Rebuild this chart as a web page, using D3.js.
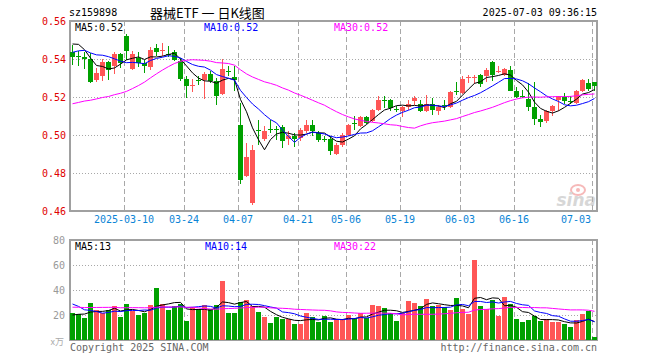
<!DOCTYPE html>
<html><head><meta charset="utf-8">
<script src="https://cdn.jsdelivr.net/npm/d3@7"></script>
<style>body{margin:0;background:#fff}svg{display:block}</style>
</head><body><svg id="c" width="660" height="360"></svg>
<script>
// ---------- data ----------
const dates = ["2025-02-25","2025-02-26","2025-02-27","2025-02-28","2025-03-03","2025-03-04","2025-03-05","2025-03-06","2025-03-07","2025-03-10","2025-03-11","2025-03-12","2025-03-13","2025-03-14","2025-03-17","2025-03-18","2025-03-19","2025-03-20","2025-03-21","2025-03-24","2025-03-25","2025-03-26","2025-03-27","2025-03-28","2025-03-31","2025-04-01","2025-04-02","2025-04-03","2025-04-07","2025-04-08","2025-04-09","2025-04-10","2025-04-11","2025-04-14","2025-04-15","2025-04-16","2025-04-17","2025-04-18","2025-04-21","2025-04-22","2025-04-23","2025-04-24","2025-04-25","2025-04-28","2025-04-29","2025-04-30","2025-05-06","2025-05-07","2025-05-08","2025-05-09","2025-05-12","2025-05-13","2025-05-14","2025-05-15","2025-05-16","2025-05-19","2025-05-20","2025-05-21","2025-05-22","2025-05-23","2025-05-26","2025-05-27","2025-05-28","2025-05-29","2025-05-30","2025-06-03","2025-06-04","2025-06-05","2025-06-06","2025-06-09","2025-06-10","2025-06-11","2025-06-12","2025-06-13","2025-06-16","2025-06-17","2025-06-18","2025-06-19","2025-06-20","2025-06-23","2025-06-24","2025-06-25","2025-06-26","2025-06-27","2025-06-30","2025-07-01","2025-07-02","2025-07-03"];
const open  = [0.5439,0.5418,0.5408,0.5398,0.5288,0.5309,0.5386,0.5361,0.5428,0.5519,0.5349,0.5405,0.5379,0.5358,0.5458,0.5440,0.5428,0.5439,0.5388,0.5295,0.5256,0.5290,0.5288,0.5321,0.5286,0.5218,0.5337,0.5305,0.5054,0.4783,0.4642,0.5025,0.4979,0.5033,0.5034,0.5042,0.4979,0.4997,0.4985,0.5023,0.5054,0.5011,0.4978,0.4979,0.4902,0.4949,0.5002,0.5065,0.5046,0.5095,0.5072,0.5133,0.5184,0.5186,0.5135,0.5124,0.5147,0.5177,0.5165,0.5124,0.5165,0.5124,0.5156,0.5147,0.5232,0.5221,0.5302,0.5303,0.5317,0.5309,0.5386,0.5333,0.5317,0.5340,0.5232,0.5205,0.5189,0.5146,0.5086,0.5075,0.5124,0.5186,0.5200,0.5179,0.5168,0.5230,0.5274,0.5277];
const high  = [0.5475,0.5440,0.5435,0.5432,0.5355,0.5398,0.5390,0.5435,0.5430,0.5530,0.5442,0.5439,0.5396,0.5463,0.5481,0.5484,0.5467,0.5449,0.5405,0.5309,0.5295,0.5309,0.5330,0.5335,0.5300,0.5400,0.5365,0.5361,0.5168,0.4958,0.4947,0.5077,0.5046,0.5081,0.5046,0.5054,0.5023,0.5011,0.5037,0.5077,0.5077,0.5023,0.4997,0.4993,0.4958,0.5011,0.5056,0.5102,0.5102,0.5100,0.5135,0.5207,0.5205,0.5188,0.5151,0.5151,0.5186,0.5205,0.5186,0.5212,0.5195,0.5160,0.5184,0.5230,0.5277,0.5309,0.5317,0.5317,0.5319,0.5353,0.5388,0.5361,0.5353,0.5361,0.5253,0.5239,0.5274,0.5277,0.5107,0.5130,0.5160,0.5207,0.5221,0.5207,0.5235,0.5297,0.5297,0.5277];
const low   = [0.5370,0.5362,0.5347,0.5272,0.5280,0.5282,0.5291,0.5323,0.5353,0.5396,0.5344,0.5358,0.5326,0.5340,0.5414,0.5418,0.5411,0.5388,0.5282,0.5195,0.5226,0.5265,0.5191,0.5272,0.5160,0.5213,0.5309,0.5230,0.4744,0.4777,0.4633,0.4949,0.4970,0.5011,0.4974,0.4932,0.4949,0.4939,0.4967,0.5011,0.4997,0.4962,0.4962,0.4897,0.4897,0.4937,0.4997,0.5028,0.5042,0.5058,0.5067,0.5128,0.5144,0.5124,0.5121,0.5095,0.5133,0.5160,0.5119,0.5119,0.5107,0.5107,0.5133,0.5142,0.5212,0.5218,0.5274,0.5267,0.5253,0.5277,0.5282,0.5326,0.5312,0.5230,0.5195,0.5195,0.5124,0.5051,0.5042,0.5063,0.5102,0.5128,0.5165,0.5165,0.5165,0.5226,0.5230,0.5233];
const close = [0.5411,0.5410,0.5402,0.5278,0.5328,0.5386,0.5344,0.5428,0.5379,0.5440,0.5428,0.5379,0.5361,0.5449,0.5437,0.5449,0.5423,0.5393,0.5297,0.5256,0.5265,0.5286,0.5321,0.5286,0.5204,0.5347,0.5333,0.5288,0.4761,0.4883,0.4923,0.5021,0.5023,0.5030,0.5030,0.4967,0.4997,0.4979,0.5025,0.5054,0.5023,0.4976,0.4974,0.4914,0.4949,0.5002,0.5054,0.5061,0.5095,0.5063,0.5133,0.5186,0.5181,0.5142,0.5131,0.5146,0.5165,0.5195,0.5124,0.5165,0.5133,0.5147,0.5152,0.5226,0.5228,0.5295,0.5305,0.5305,0.5268,0.5340,0.5317,0.5337,0.5349,0.5233,0.5200,0.5200,0.5146,0.5086,0.5068,0.5124,0.5154,0.5204,0.5177,0.5175,0.5233,0.5288,0.5244,0.5256];
const volume = [21.6,20.8,17.9,29.9,24.0,21.9,24.0,27.2,18.7,28.8,23.5,20.0,21.9,28.0,41.6,28.8,24.0,27.2,28.8,15.5,26.1,24.5,28.0,24.5,27.7,47.5,21.9,21.9,30.7,32.0,27.2,22.7,18.7,13.9,18.7,16.8,16.5,12.8,12.8,21.9,18.1,14.7,19.5,14.4,16.5,16.5,20.0,17.3,21.3,17.3,28.0,27.2,25.3,21.3,15.2,21.3,31.2,29.9,27.2,32.8,27.2,28.0,26.1,24.0,33.3,24.8,20.8,64.0,27.2,24.5,32.0,19.2,34.1,28.8,16.8,14.4,16.0,19.5,15.2,16.5,14.4,14.4,12.8,10.4,16.0,20.8,23.5,2.7];
// sessions before the visible window (estimated), only used for the moving averages
const priorCloses = [0.520,0.518,0.515,0.512,0.516,0.519,0.514,0.516,0.514,0.498,0.490,0.482,0.478,0.480,0.485,0.488,0.490,0.496,0.508,0.519,0.533,0.5375,0.5415,0.543,0.5405,0.542,0.5542,0.5498,0.5524];
const priorVolumes = [22,25,28,24,20,23,26,30,27,22,21,24,26,29,25,23,27,28,24,25,40,45,35,33,35,18,17,22,21.4];
const priceTicks = [0.56,0.54,0.52,0.50,0.48,0.46];
const volTicks = [80,60,40,20];
const dateTicks = ["2025-03-10","2025-03-24","2025-04-07","2025-04-21","2025-05-06","2025-05-19","2025-06-03","2025-06-16","2025-07-03"];
const dateTickLabels = ["2025-03-10","03-24","04-07","04-21","05-06","05-19","06-03","06-16","07-03"];
const maPeriods = [5,10,30];
const maColors = ["#000000","#0000ff","#ff00ff"];
const priceMaLabels = ["MA5:0.52","MA10:0.52","MA30:0.52"];
const volMaLabels = ["MA5:13","MA10:14","MA30:22"];

// ---------- drawing ----------
const UP = "#ff5656", DOWN = "#00a000", GRID = "#a8a8a8";
const MONO = "'DejaVu Sans Mono', monospace";
const svg = d3.select("#c");
const L = 70, R = 597;
const P = {top:21, bottom:211}, V = {top:240, bottom:340};

const x = d3.scaleBand().domain(dates).range([69, 69 + 6*dates.length]);
const cx = d => x(d) + 3.5;
const yP = d3.scaleLinear().domain([0.46,0.56]).range([P.bottom, P.top]);
const yV = d3.scaleLinear().domain([0,80]).range([V.bottom, V.top]);

function movingAvg(prior, vals, n){
  const all = prior.concat(vals), off = prior.length;
  return vals.map((_, i) => d3.mean(all.slice(off+i-n+1, off+i+1)));
}

// header
svg.append("text").attr("x",69).attr("y",12.5).attr("dominant-baseline","central")
  .style("font",`10px ${MONO}`).attr("fill","#000").text("sz159898");
svg.append("text").attr("x",150).attr("y",12.5).attr("dominant-baseline","central")
  .style("font","13px 'Noto Sans CJK SC', sans-serif").attr("fill","#000").text("器械ETF\u00a0一\u00a0日K线图");
svg.append("text").attr("x",597).attr("y",12.5).attr("dominant-baseline","central").attr("text-anchor","end")
  .style("font",`10px ${MONO}`).attr("fill","#000").text("2025-07-03 09:36:15");

function panel(top, bottom, yScale, hTicks){
  const g = svg.append("g");
  g.selectAll("line.h").data(hTicks).join("line")
    .attr("x1",L).attr("x2",R)
    .attr("y1",d=>Math.round(yScale(d))+0.5).attr("y2",d=>Math.round(yScale(d))+0.5)
    .attr("stroke",GRID).attr("stroke-dasharray","1,2").attr("shape-rendering","crispEdges");
  g.selectAll("line.v").data(dateTicks).join("line")
    .attr("x1",d=>x(d)+1.5).attr("x2",d=>x(d)+1.5)
    .attr("y1",top).attr("y2",bottom)
    .attr("stroke",GRID).attr("stroke-dasharray","5,3").attr("shape-rendering","crispEdges");
  return g;
}
function frame(top,bottom){
  svg.append("rect").attr("x",L).attr("y",top).attr("width",R-L).attr("height",bottom-top)
    .attr("fill","none").attr("stroke","#a0a0a0").attr("stroke-width",2).attr("shape-rendering","crispEdges");
}

// price panel
panel(P.top,P.bottom,yP,[0.54,0.52,0.50,0.48]);
// sina watermark
const wm = svg.append("g").attr("opacity",0.55);
wm.append("ellipse").attr("cx",578).attr("cy",190).attr("rx",7).attr("ry",5).attr("fill","none").attr("stroke","#f08080").attr("stroke-width",2);
wm.append("circle").attr("cx",578).attr("cy",190).attr("r",2).attr("fill","#f08080");
wm.append("text").attr("x",596).attr("y",206).attr("text-anchor","end")
  .style("font","italic bold 17px 'DejaVu Sans', sans-serif").attr("fill","#b8b8b8").text("sina");

frame(P.top,P.bottom);

const idx = d3.range(dates.length);
const cg = svg.append("g").attr("shape-rendering","crispEdges");
cg.selectAll("rect.w").data(idx).join("rect")
  .attr("x",i=>x(dates[i])+3).attr("width",1)
  .attr("y",i=>Math.round(yP(high[i]))).attr("height",i=>Math.max(1,Math.round(yP(low[i]))-Math.round(yP(high[i]))))
  .attr("fill",i=>close[i]>=open[i]?UP:DOWN);
cg.selectAll("rect.b").data(idx).join("rect")
  .attr("x",i=>x(dates[i])+1).attr("width",5)
  .attr("y",i=>Math.round(yP(Math.max(open[i],close[i]))))
  .attr("height",i=>Math.max(1,Math.round(yP(Math.min(open[i],close[i])))-Math.round(yP(Math.max(open[i],close[i])))))
  .attr("fill",i=>close[i]>=open[i]?UP:DOWN);

maPeriods.forEach((n,k)=>{
  const m = movingAvg(priorCloses, close, n);
  svg.append("path").datum(m)
    .attr("d", d3.line().x((v,i)=>cx(dates[i])).y(v=>yP(v)))
    .attr("fill","none").attr("stroke",maColors[k]).attr("stroke-width",1);
});

// price axis labels
const ax = svg.append("g").attr("transform",`translate(${L},0)`)
  .call(d3.axisLeft(yP).tickValues(priceTicks).tickFormat(d3.format(".2f")).tickSize(0).tickPadding(4));
ax.select(".domain").remove();
ax.selectAll("text").style("font",`10px ${MONO}`).attr("fill","#e00000");

// MA labels
[75,204,334].forEach((px,k)=>{
  svg.append("text").attr("x",px).attr("y",27).attr("dominant-baseline","central")
    .style("font",`10px ${MONO}`).attr("fill",maColors[k]).text(priceMaLabels[k]);
});

// date axis
const dx = svg.append("g").attr("transform",`translate(0,${P.bottom})`)
  .call(d3.axisBottom(x).tickValues(dateTicks).tickFormat((d,i)=>dateTickLabels[i]).tickSize(0).tickPadding(5));
dx.select(".domain").remove();
dx.selectAll("text").style("font",`10px ${MONO}`).attr("fill","#0a84d6").attr("dx",-2);
dx.selectAll(".tick").filter(d=>d===dateTicks[dateTicks.length-1]).select("text")
  .attr("text-anchor","end").attr("dx",-3);

// volume panel
panel(V.top,V.bottom,yV,[60,40,20]);
frame(V.top,V.bottom);
const vg = svg.append("g").attr("shape-rendering","crispEdges");
vg.selectAll("rect").data(idx).join("rect")
  .attr("x",i=>x(dates[i])+1).attr("width",5)
  .attr("y",i=>Math.round(yV(volume[i]))).attr("height",i=>V.bottom-Math.round(yV(volume[i])))
  .attr("fill",i=>close[i]>=open[i]?UP:DOWN);
maPeriods.forEach((n,k)=>{
  const m = movingAvg(priorVolumes, volume, n);
  svg.append("path").datum(m)
    .attr("d", d3.line().x((v,i)=>cx(dates[i])).y(v=>yV(v)))
    .attr("fill","none").attr("stroke",maColors[k]).attr("stroke-width",1);
});
const vax = svg.append("g").attr("transform",`translate(${L},0)`)
  .call(d3.axisLeft(yV).tickValues(volTicks).tickSize(0).tickPadding(5));
vax.select(".domain").remove();
vax.selectAll("text").style("font",`10px ${MONO}`).attr("fill","#999");
svg.append("text").attr("x",64).attr("y",341).attr("text-anchor","end").attr("dominant-baseline","central")
  .style("font","9px 'Noto Sans CJK SC', sans-serif").attr("fill","#aaa").text("x万");
[75,205,334].forEach((px,k)=>{
  svg.append("text").attr("x",px).attr("y",246).attr("dominant-baseline","central")
    .style("font",`10px ${MONO}`).attr("fill",maColors[k]).text(volMaLabels[k]);
});

// footer
svg.append("text").attr("x",70).attr("y",347).attr("dominant-baseline","central")
  .style("font",`10px ${MONO}`).attr("fill","#666").text("Copyright 2025 SINA.COM");
svg.append("text").attr("x",597).attr("y",347).attr("dominant-baseline","central").attr("text-anchor","end")
  .style("font",`10px ${MONO}`).attr("fill","#666").text("http://finance.sina.com.cn");
</script></body></html>
